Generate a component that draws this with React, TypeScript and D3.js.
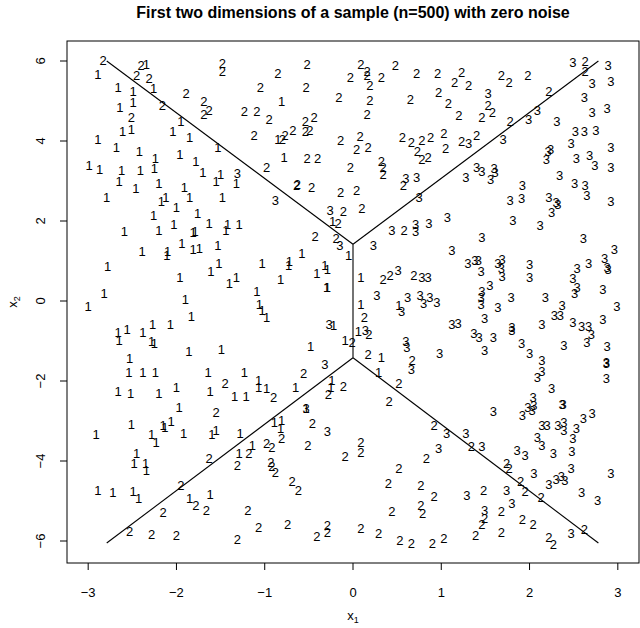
import React, { useEffect, useRef } from "react";
import * as d3 from "d3";

// points, one list per class label
const class1: [number, number][] = [
  [-2.89, 5.66], [-2.34, 5.91], [-2.26, 5.31], [-2.66, 5.35], [-2.49, 5.23], [-2.64, 4.85], [-2.49, 4.96],
  [-2.61, 4.23], [-2.51, 4.29], [-1.95, 4.48], [-2.04, 4.24], [-1.85, 4.1], [-2.89, 4.04], [-2.68, 3.85],
  [-2.42, 3.73], [-2.24, 3.56], [-1.96, 3.66], [-1.78, 3.49], [-1.53, 3.85], [-2.99, 3.39], [-2.87, 3.29],
  [-2.62, 3.27], [-2.41, 3.27], [-2.25, 3.31], [-2.65, 2.98], [-2.46, 2.81], [-2.2, 2.93], [-1.7, 3.21],
  [-1.55, 2.98], [-1.5, 3.17], [-1.32, 2.93], [-2.79, 2.6], [-2.17, 2.48], [-2.12, 2.6], [-2.0, 2.35],
  [-1.91, 2.83], [-1.85, 2.6], [-1.48, 2.6], [-2.26, 2.13], [-1.76, 2.18],
  [-2.59, 1.74], [-2.2, 1.77], [-2.03, 1.92], [-1.81, 1.71], [-1.79, 1.73], [-1.63, 1.93], [-1.44, 1.77],
  [-1.42, 1.92], [-1.29, 1.92], [-2.39, 1.24], [-2.11, 1.14], [-2.1, 1.24], [-1.94, 1.43], [-1.81, 1.28],
  [-1.74, 1.31], [-1.53, 1.38], [-2.78, 0.87], [-1.61, 0.75], [-1.52, 0.95], [-1.96, 0.6], [-1.4, 0.43],
  [-1.32, 0.6], [-2.82, 0.2], [-3.0, -0.13], [-1.9, 0.04], [-1.09, 0.23], [-1.06, -0.08], [-1.03, -0.23],
  [-0.98, -0.4], [-1.83, -0.38], [-2.66, -0.78], [-2.65, -0.98], [-2.56, -0.72], [-2.38, -0.78], [-2.27, -0.59],
  [-2.28, -1.0], [-2.25, -1.07], [-2.07, -0.59], [-1.86, -1.25], [-1.49, -1.21], [-2.53, -1.44], [-2.54, -1.78],
  [-2.38, -1.78], [-2.24, -1.78], [-1.64, -1.78], [-1.23, -1.78], [-1.07, -1.98], [-1.07, -2.17], [-2.66, -2.25],
  [-2.52, -2.32], [-2.2, -2.32], [-2.0, -2.17], [-1.62, -2.25], [-1.34, -2.38], [-1.21, -2.38],
  [-0.23, 1.98], [-0.05, 1.14], [-1.03, 0.93], [-0.73, 0.89], [-0.72, 0.98], [-0.58, 1.18], [-0.82, 0.53],
  [-0.41, 0.68], [-0.32, 0.89], [-0.29, 0.78], [-0.3, 0.33], [-0.29, 0.35], [0.09, 0.58], [0.52, -0.11],
  [0.09, -0.08], [0.06, -0.75], [-0.22, -0.61], [-0.09, -0.98], [-0.48, -1.13], [0.32, -1.42], [0.29, -1.78],
  [-0.65, -2.15], [-0.24, -1.98], [-0.25, -2.15], [-0.98, -2.19],
  [-1.97, -2.65], [-2.91, -3.34], [-2.51, -3.09], [-2.15, -3.11], [-2.13, -3.17], [-2.06, -3.02], [-2.28, -3.34],
  [-2.23, -3.54], [-1.92, -3.32], [-1.6, -3.34], [-1.55, -3.23], [-1.28, -3.32], [-2.45, -3.82], [-2.48, -4.07],
  [-2.35, -4.07], [-2.34, -4.23], [-1.29, -3.82], [-1.14, -3.61], [-2.89, -4.73], [-2.72, -4.78], [-2.49, -4.75],
  [-2.43, -4.93], [-1.85, -4.93], [-1.62, -4.84],
  [-0.53, -2.68], [-0.89, -3.03], [-0.81, -2.98], [-0.82, -3.19],
  [-0.81, 4.99], [-0.85, 4.03], [-0.78, 3.58],
];

const class2: [number, number][] = [
  [-2.83, 6.02], [-2.4, 5.88], [-2.45, 5.64], [-2.31, 5.56], [-1.89, 5.18], [-1.69, 4.98], [-1.63, 4.77],
  [-1.69, 4.66], [-1.48, 5.93], [-1.48, 5.73], [-2.16, 4.88], [-2.51, 4.6], [-1.23, 4.73], [-1.09, 4.73],
  [-1.12, 4.14],
  [-0.52, 5.91], [-0.85, 5.7], [-1.05, 5.33], [-0.53, 5.33], [-0.95, 4.54], [-0.54, 4.48], [-0.44, 4.6],
  [-0.8, 4.03], [-0.77, 4.13], [-0.68, 4.27], [-0.54, 4.25], [-0.49, 4.27], [-0.52, 3.56], [-0.4, 3.56],
  [-0.98, 3.35], [-0.64, 2.89], [-0.63, 2.91], [-0.47, 2.83], [-0.11, 2.23], [0.1, 2.31], [-0.14, 2.71],
  [0.04, 2.77], [-0.03, 3.33], [-0.14, 4.02], [0.08, 4.12], [0.04, 3.79], [0.17, 3.85], [0.32, 3.48],
  [0.34, 3.33], [0.34, 3.16], [0.09, 5.91], [0.16, 5.74], [0.16, 5.64], [-0.03, 5.58], [0.19, 5.39],
  [0.32, 5.58], [0.48, 5.88], [0.72, 5.68], [0.96, 5.68], [-0.16, 5.1], [0.19, 5.02], [0.16, 4.66],
  [0.65, 5.04], [0.97, 5.21], [1.08, 4.93], [0.56, 4.08], [0.66, 3.96], [0.78, 4.02], [0.88, 4.1],
  [1.03, 4.18], [1.05, 3.81], [0.73, 3.73], [0.78, 3.54], [0.85, 3.58], [0.57, 2.88],
  [2.63, 5.99], [2.63, 5.74], [1.23, 5.71], [1.15, 5.46], [1.31, 5.38], [1.68, 5.63], [1.77, 5.46],
  [1.98, 5.64], [2.22, 5.23], [1.2, 4.64], [1.53, 4.89], [1.46, 4.58], [1.58, 4.71], [1.78, 4.48],
  [1.23, 3.98], [1.4, 4.13],
  [-1.45, -2.07],
  [-0.17, 1.95], [-0.43, 1.62], [-0.19, 1.56], [0.58, 1.77], [0.34, 0.53], [0.42, 0.64], [0.69, 0.64],
  [0.13, -0.42], [0.18, -0.83], [-0.01, -1.03], [0.17, -1.34], [0.67, -1.48], [0.52, -2.07], [-0.56, -1.8],
  [-0.11, -2.13], [-0.28, -2.33], [-0.9, -2.4],
  [-1.55, -2.78], [-1.95, -4.61], [-1.63, -3.94], [-1.31, -4.11], [-1.18, -3.82], [-1.78, -5.11], [-1.66, -5.23],
  [-2.15, -5.28], [-1.19, -5.23], [-2.53, -5.76], [-2.28, -5.84], [-2.0, -5.86], [-1.31, -5.96], [-1.07, -5.65],
  [-0.81, -3.43], [-0.46, -3.07], [-0.98, -3.57], [-0.92, -3.65], [-0.51, -3.61], [-0.09, -3.88], [0.09, -3.54],
  [0.09, -3.78], [-0.93, -4.03], [-0.92, -4.13], [-0.88, -4.28], [-0.69, -4.51], [-0.62, -4.73], [-0.74, -5.59],
  [-0.41, -5.88], [-0.29, -5.61], [-0.29, -5.78], [0.09, -5.69], [0.29, -5.82], [0.53, -5.98], [0.66, -6.07],
  [0.9, -6.07], [1.03, -5.94], [0.41, -2.51], [0.52, -4.18], [0.4, -4.57], [0.44, -5.26], [0.77, -4.61],
  [0.92, -4.88], [0.77, -5.11], [0.79, -5.32], [0.83, -3.94], [0.92, -3.11],
  [1.34, -3.63], [1.74, -4.07], [1.77, -4.18], [1.9, -4.51], [1.95, -4.76], [1.48, -4.73], [2.13, -4.9],
  [1.49, -5.43], [1.46, -5.59], [1.68, -5.26], [1.92, -5.47], [2.04, -5.59], [1.39, -5.86], [1.68, -5.78],
  [2.22, -5.9], [2.27, -6.09], [2.62, -5.71],
];

const class3: [number, number][] = [
  [-1.31, 3.2], [-0.88, 2.52], [-0.26, 2.27], [0.6, 3.06], [0.72, 3.08], [0.75, 2.6],
  [2.49, 5.96], [2.89, 5.88], [2.71, 5.43], [2.92, 5.48], [1.53, 5.18], [2.62, 5.1], [2.71, 4.71],
  [2.88, 4.81], [1.99, 4.54], [2.09, 4.77], [2.31, 4.5], [2.52, 4.24], [2.62, 4.23], [2.75, 4.26],
  [1.31, 3.95], [1.7, 4.03], [2.47, 3.93], [2.21, 3.73], [2.24, 3.79], [2.19, 3.54], [2.53, 3.56],
  [2.68, 3.64], [2.74, 3.38], [2.92, 3.85], [2.92, 3.35], [1.4, 3.33], [1.46, 3.24], [1.6, 3.31],
  [1.61, 3.21], [1.56, 3.04], [1.28, 3.08], [2.34, 3.14], [2.51, 2.93], [2.63, 2.88], [2.65, 2.63],
  [1.92, 2.88], [1.78, 2.52], [1.91, 2.56], [2.22, 2.6], [2.3, 2.46], [2.32, 2.41], [2.25, 2.21],
  [2.92, 2.48], [1.07, 2.08], [1.81, 2.02],
  [-0.15, 1.39], [0.23, 1.39], [0.44, 1.77], [0.71, 1.92], [0.71, 1.73], [0.86, 1.93], [0.51, 0.77],
  [0.78, 0.58], [0.85, 0.58], [0.27, 0.14], [0.62, 0.1], [0.55, -0.25], [0.76, 0.14], [0.8, -0.05],
  [0.87, 0.08], [0.95, -0.03], [0.14, -0.73], [-0.27, -0.58], [-0.32, -1.59], [0.6, -1.0], [0.61, -1.17],
  [0.66, -1.72], [0.98, -1.3],
  [2.12, 1.89], [1.46, 1.58], [2.61, 1.56], [1.12, 1.27], [2.96, 1.28], [1.3, 0.93], [1.38, 1.02],
  [1.42, 1.02], [1.45, 0.73], [1.64, 0.93], [1.69, 1.03], [1.68, 0.81], [1.69, 0.62], [2.0, 0.92],
  [2.0, 0.58], [2.54, 0.81], [2.67, 0.95], [2.85, 1.06], [2.88, 0.85], [2.89, 0.78], [2.49, 0.56],
  [2.54, 0.33], [2.51, 0.2], [1.46, 0.25], [1.45, 0.1], [1.45, -0.08], [1.55, 0.39], [1.79, 0.1],
  [1.64, -0.15], [2.18, 0.1], [2.83, 0.28], [2.99, -0.13], [2.37, -0.11], [2.28, -0.36], [2.35, -0.36],
  [1.12, -0.58], [1.19, -0.55], [1.49, -0.44], [1.8, -0.65], [1.8, -0.73], [2.14, -0.58], [2.49, -0.53],
  [2.59, -0.63], [2.67, -0.63], [2.7, -0.83], [2.65, -1.03], [2.83, -0.47], [1.37, -0.82], [1.43, -0.9],
  [1.59, -0.92], [1.49, -1.23], [1.91, -1.07], [2.0, -1.32], [2.39, -1.11], [2.88, -1.13], [2.87, -1.55],
  [2.87, -1.53], [2.87, -1.94], [2.14, -1.48], [2.14, -1.75], [2.09, -1.9], [2.25, -2.19],
  [-0.53, -2.68], [-0.29, -3.26], [1.06, -3.32], [0.97, -3.69],
  [1.59, -2.76], [1.92, -2.86], [1.98, -2.65], [2.03, -2.73], [2.04, -2.4], [2.05, -2.61], [2.37, -2.59],
  [2.38, -2.59], [2.61, -2.93], [2.71, -2.82], [2.14, -3.11], [2.2, -3.11], [2.32, -3.11], [2.39, -3.03],
  [2.39, -3.23], [2.53, -3.19], [2.09, -3.4], [2.14, -3.61], [2.49, -3.44], [2.48, -3.76], [2.27, -3.82],
  [1.28, -3.32], [1.46, -3.63], [1.86, -3.73], [1.95, -3.86], [2.05, -4.32], [2.47, -4.18], [2.22, -4.59],
  [2.3, -4.46], [2.36, -4.38], [2.4, -4.48], [2.92, -4.3], [1.74, -4.73], [1.29, -4.86], [2.59, -4.78],
  [2.77, -4.98], [1.8, -5.07], [1.49, -5.23], [2.47, -5.82],
];

// decision boundary segments
const boundary: [number, number][][] = [
  [[-2.79, 6.0], [0, 1.42]],
  [[0, 1.42], [2.78, 6.0]],
  [[0, 1.42], [0, -1.42]],
  [[0, -1.42], [-2.79, -6.05]],
  [[0, -1.42], [2.78, -6.05]],
];

const xTicks = [-3, -2, -1, 0, 1, 2, 3];
const yTicks = [-6, -4, -2, 0, 2, 4, 6];

const W = 640;
const H = 628;
const margin = { top: 41, right: 1, bottom: 65, left: 67 };
const FONT = "'Liberation Sans', Arial, Helvetica, sans-serif";

export default function App() {
  const ref = useRef<SVGSVGElement>(null);

  useEffect(() => {
    const svg = d3.select(ref.current);
    svg.selectAll("*").remove();

    const x = d3.scaleLinear().domain([-3.24, 3.24]).range([margin.left, W - margin.right]);
    const y = d3.scaleLinear().domain([-6.55, 6.5]).range([H - margin.bottom, margin.top]);

    const pts = [
      ...class1.map(d => ({ x: d[0], y: d[1], lab: "1" })),
      ...class2.map(d => ({ x: d[0], y: d[1], lab: "2" })),
      ...class3.map(d => ({ x: d[0], y: d[1], lab: "3" })),
    ];

    svg.append("g")
      .attr("font-family", FONT)
      .attr("font-size", 13)
      .selectAll("text")
      .data(pts)
      .join("text")
      .attr("x", d => x(d.x))
      .attr("y", d => y(d.y))
      .attr("text-anchor", "middle")
      .attr("dominant-baseline", "central")
      .text(d => d.lab);

    const line = d3.line<[number, number]>().x(d => x(d[0])).y(d => y(d[1]));
    svg.append("g")
      .selectAll("path")
      .data(boundary)
      .join("path")
      .attr("d", d => line(d))
      .attr("fill", "none")
      .attr("stroke", "#000")
      .attr("stroke-width", 1.1);

    // box
    svg.append("rect")
      .attr("x", margin.left)
      .attr("y", margin.top)
      .attr("width", W - margin.left - margin.right)
      .attr("height", H - margin.top - margin.bottom)
      .attr("fill", "none")
      .attr("stroke", "#000");

    const bottom = H - margin.bottom;
    const fmt = (v: number) => (v < 0 ? "\u2212" + Math.abs(v) : String(v));

    const xa = svg.append("g").attr("font-family", FONT).attr("font-size", 13);
    xa.selectAll("line")
      .data(xTicks)
      .join("line")
      .attr("x1", d => x(d)).attr("x2", d => x(d))
      .attr("y1", bottom).attr("y2", bottom + 7)
      .attr("stroke", "#000");
    xa.selectAll("text")
      .data(xTicks)
      .join("text")
      .attr("x", d => x(d))
      .attr("y", bottom + 29)
      .attr("text-anchor", "middle")
      .attr("dominant-baseline", "central")
      .text(d => fmt(d));

    const ya = svg.append("g").attr("font-family", FONT).attr("font-size", 13);
    ya.selectAll("line")
      .data(yTicks)
      .join("line")
      .attr("x1", margin.left - 7).attr("x2", margin.left)
      .attr("y1", d => y(d)).attr("y2", d => y(d))
      .attr("stroke", "#000");
    ya.selectAll("text")
      .data(yTicks)
      .join("text")
      .attr("transform", d => `translate(${margin.left - 27},${y(d)}) rotate(-90)`)
      .attr("text-anchor", "middle")
      .attr("dominant-baseline", "central")
      .text(d => fmt(d));

    // title
    svg.append("text")
      .attr("x", (margin.left + W - margin.right) / 2)
      .attr("y", 18)
      .attr("text-anchor", "middle")
      .attr("font-family", FONT)
      .attr("font-weight", "bold")
      .attr("font-size", 16)
      .text("First two dimensions of a sample (n=500) with zero noise");

    // axis labels with subscripts
    const xl = svg.append("text")
      .attr("x", (margin.left + W - margin.right) / 2)
      .attr("y", 620)
      .attr("text-anchor", "middle")
      .attr("font-family", FONT)
      .attr("font-size", 13);
    xl.append("tspan").text("x");
    xl.append("tspan").attr("font-size", 9).attr("dy", 3).text("1");

    const yl = svg.append("text")
      .attr("transform", `translate(17,${(margin.top + bottom) / 2}) rotate(-90)`)
      .attr("text-anchor", "middle")
      .attr("font-family", FONT)
      .attr("font-size", 13);
    yl.append("tspan").text("x");
    yl.append("tspan").attr("font-size", 9).attr("dy", 3).text("2");
  }, []);

  return (
    <svg
      ref={ref}
      width={W}
      height={H}
      style={{ position: "absolute", left: 0, top: 0, background: "#fff" }}
    />
  );
}
